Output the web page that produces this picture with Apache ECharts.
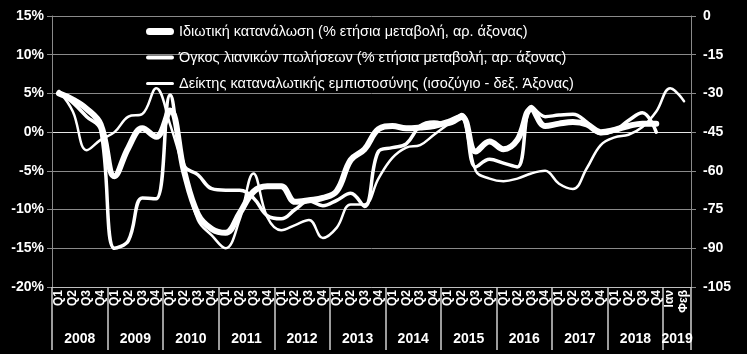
<!DOCTYPE html>
<html>
<head>
<meta charset="utf-8">
<script src="https://cdn.jsdelivr.net/npm/echarts@6/dist/echarts.min.js"></script>
<style>
  html, body { margin: 0; padding: 0; background: #000; }
  #chart { width: 747px; height: 354px; }
</style>
</head>
<body>
<div id="chart"></div>
<script>
// x axis: quarters 2008-2018, then Jan/Feb 2019
const years = ['2008', '2009', '2010', '2011', '2012', '2013', '2014', '2015', '2016', '2017', '2018', '2019'];
const periodsPerYear = [4, 4, 4, 4, 4, 4, 4, 4, 4, 4, 4, 2];
const quarterLabels = ['Q1', 'Q2', 'Q3', 'Q4'];
const monthLabels = ['Ιαν', 'Φεβ'];

// private consumption, % yoy (left axis)
const consumption = [5.0, 4.2, 3.0, 1.0, -5.7, -2.0, 0.5, -0.6, 2.8, -5.0, -10.6, -12.5, -13.0, -10.5, -7.7, -7.0,
  -7.0, -9.0, -8.8, -8.5, -7.6, -3.6, -2.2, 0.4, 0.8, 0.5, 0.6, 0.8, 1.3, 2.0, -2.5, -1.2,
  -2.2, -1.0, 3.0, 0.8, 1.1, 1.3, 1.0, 0.0, 0.3, 0.8, 1.1, 1.1];
// retail sales volume, % yoy (left axis)
const retailSales = [5.2, 3.8, 2.0, 0.3, -15.0, -14.0, -8.5, -8.6, 4.8, -4.3, -5.5, -7.3, -7.5, -7.5, -8.5, -10.8,
  -11.2, -10.0, -8.9, -9.5, -8.8, -7.9, -9.6, -2.5, -2.0, -1.5, 0.8, 1.3, 1.0, 1.8, -4.5, -3.5,
  -4.0, -4.5, 3.3, 2.0, 2.2, 2.3, 1.3, -0.2, 0.2, 1.5, 2.5, 0.0];
// consumer confidence balance (right axis)
const confidence = [-29, -37, -52, -48, -45, -39, -38, -28, -42, -60, -79, -85, -90, -79, -61, -78,
  -83, -81, -79, -86, -82, -73, -73, -63, -55, -51, -50, -46, -42, -38, -60, -63,
  -64, -63, -61, -60, -65, -67, -59, -50, -47, -46, -43, -37, -28, -33];

const seriesNames = [
  'Ιδιωτική κατανάλωση (% ετήσια μεταβολή, αρ. άξονας)',
  'Όγκος λιανικών πωλήσεων (% ετήσια μεταβολή, αρ. άξονας)',
  'Δείκτης καταναλωτικής εμπιστοσύνης (ισοζύγιο - δεξ. Άξονας)'
];

// build categories and year group positions
const categories = [];
const yearBounds = [0];
const yearCenters = [];
periodsPerYear.forEach((n) => {
  const labels = n === 4 ? quarterLabels : monthLabels;
  for (let j = 0; j < n; j++) categories.push(labels[j]);
  const start = yearBounds[yearBounds.length - 1];
  yearCenters.push(start + n / 2);
  yearBounds.push(start + n);
});

// legend icons: rounded bars of different thickness inside a 28x14 box
const barIcon = (h) => {
  const r = h / 2, y0 = 7 - r, y1 = 7 + r;
  return 'path://M0,0 L0.01,0 L0,0.01 Z ' +
    `M${r},${y0} L${28 - r},${y0} A${r},${r} 0 0 1 ${28 - r},${y1} L${r},${y1} A${r},${r} 0 0 1 ${r},${y0} Z ` +
    'M28,14 L27.99,14 L28,13.99 Z';
};

const font = 'Arial, "Liberation Sans", sans-serif';
const gridColor = '#8a8a8a';

const chart = echarts.init(document.getElementById('chart'));

chart.setOption({
  backgroundColor: '#000',
  animation: false,
  textStyle: { fontFamily: font },
  grid: { left: 52, right: 56, top: 16, bottom: 67 },
  legend: {
    orient: 'vertical',
    left: 141,
    top: 19,
    itemWidth: 28,
    itemHeight: 14,
    itemGap: 11,
    data: [
      { name: seriesNames[0], icon: barIcon(7) },
      { name: seriesNames[1], icon: barIcon(4) },
      { name: seriesNames[2], icon: barIcon(3) }
    ],
    textStyle: { color: '#fff', fontSize: 14.5, fontFamily: font }
  },
  xAxis: [
    {
      type: 'category',
      data: categories,
      boundaryGap: true,
      axisLine: { onZero: false, lineStyle: { color: '#bfbfbf', width: 1 } },
      axisTick: { show: false },
      axisLabel: {
        interval: 0,
        rotate: 90,
        margin: 3,
        color: '#fff',
        fontSize: 12,
        fontWeight: 'bold',
        fontFamily: font
      }
    },
    {
      type: 'value',
      position: 'bottom',
      min: 0,
      max: categories.length,
      axisLine: { show: false, onZero: false },
      splitLine: { show: false },
      axisTick: {
        show: true,
        customValues: yearBounds,
        length: 63,
        lineStyle: { color: '#cfcfcf', width: 1.5 }
      },
      axisLabel: {
        customValues: yearCenters,
        margin: 45,
        color: '#fff',
        fontSize: 14,
        fontWeight: 'bold',
        fontFamily: font,
        formatter: v => years[yearCenters.indexOf(v)]
      }
    }
  ],
  yAxis: [
    {
      type: 'value',
      min: -20,
      max: 15,
      interval: 5,
      axisLine: { show: true, lineStyle: { color: gridColor } },
      axisTick: { show: true, length: 5, lineStyle: { color: gridColor } },
      axisLabel: {
        formatter: '{value}%',
        margin: 8,
        color: '#fff',
        fontSize: 14,
        fontWeight: 'bold',
        fontFamily: font
      },
      splitLine: {
        lineStyle: {
          color: [gridColor, gridColor, gridColor, gridColor, '#e6e6e6', gridColor, gridColor, gridColor],
          width: 1
        }
      }
    },
    {
      type: 'value',
      min: -105,
      max: 0,
      interval: 15,
      axisLine: { show: true, lineStyle: { color: gridColor } },
      axisTick: { show: true, length: 5, lineStyle: { color: gridColor } },
      axisLabel: {
        margin: 12,
        color: '#fff',
        fontSize: 14,
        fontWeight: 'bold',
        fontFamily: font
      },
      splitLine: { show: false }
    }
  ],
  series: [
    {
      name: seriesNames[0],
      type: 'line',
      data: consumption,
      smooth: 0.4,
      symbol: 'none',
      color: '#fff',
      lineStyle: { color: '#fff', width: 6, cap: 'round' }
    },
    {
      name: seriesNames[1],
      type: 'line',
      data: retailSales,
      smooth: 0.4,
      symbol: 'none',
      color: '#fff',
      lineStyle: { color: '#fff', width: 3.5, cap: 'round' }
    },
    {
      name: seriesNames[2],
      type: 'line',
      yAxisIndex: 1,
      data: confidence,
      smooth: 0.4,
      symbol: 'none',
      color: '#fff',
      lineStyle: { color: '#fff', width: 2.5, cap: 'round' }
    }
  ]
});

window.addEventListener('resize', () => chart.resize());
</script>
</body>
</html>
